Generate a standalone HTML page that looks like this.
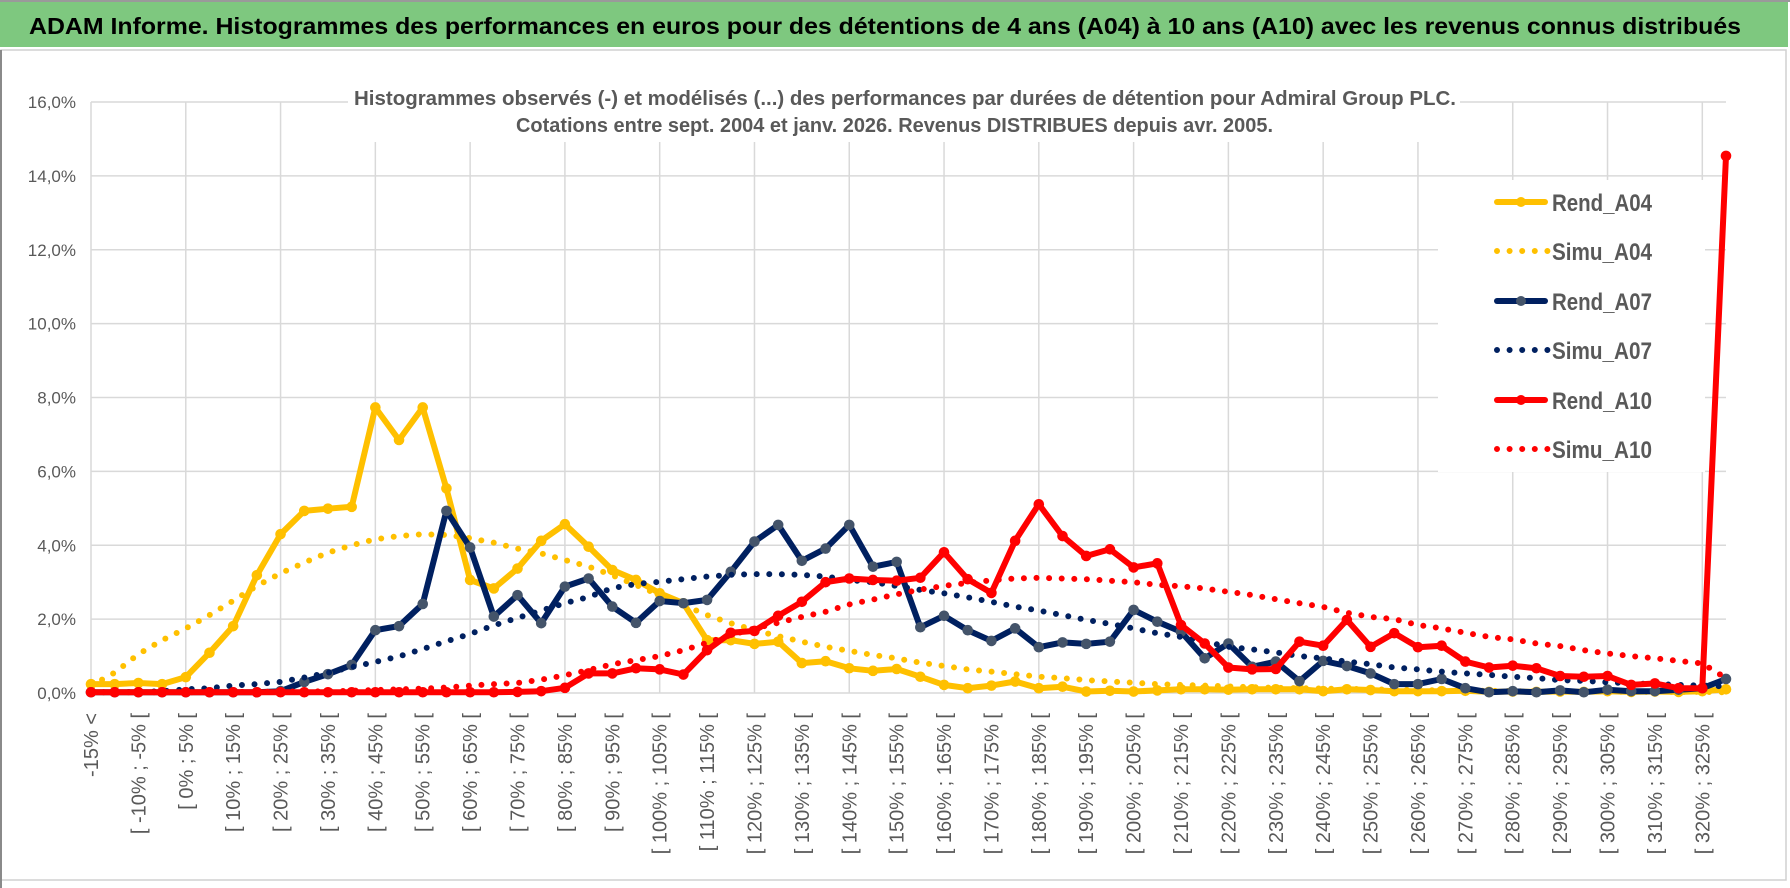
<!DOCTYPE html>
<html><head><meta charset="utf-8"><style>
html,body{margin:0;padding:0;background:#fff;}
svg{display:block;}
</style></head><body>
<svg id="chart" width="1790" height="888" viewBox="0 0 1790 888" xmlns="http://www.w3.org/2000/svg" font-family="'Liberation Sans', sans-serif">
  <rect x="0" y="0" width="1790" height="888" fill="#fff"/>
  <rect x="0" y="2" width="1788" height="45" fill="#7ec87f"/>
  <line x1="0" y1="1" x2="1790" y2="1" stroke="#9a9a9a" stroke-width="2"/>
  <text x="29" y="34" font-size="23" font-weight="bold" fill="#000" textLength="1712" lengthAdjust="spacingAndGlyphs">ADAM Informe. Histogrammes des performances en euros pour des détentions de 4 ans (A04) à 10 ans (A10) avec les revenus connus distribués</text>
  <rect x="1" y="50" width="1785" height="830" fill="#fff" stroke="#d0d0d0" stroke-width="1.5"/>
  <line x1="1" y1="50" x2="1" y2="888" stroke="#8a8a8a" stroke-width="2"/>
  <g id="grid"></g>
  <rect x="348" y="60" width="1112" height="82" fill="#fff"/>
  <text x="354" y="105" font-size="20" font-weight="bold" fill="#595959" textLength="1102" lengthAdjust="spacingAndGlyphs">Histogrammes observés (-) et modélisés (...) des performances par durées de détention pour Admiral Group PLC.</text>
  <text x="516" y="132" font-size="20" font-weight="bold" fill="#595959" textLength="757" lengthAdjust="spacingAndGlyphs">Cotations entre sept. 2004 et janv. 2026. Revenus DISTRIBUES depuis avr. 2005.</text>
  <rect x="1438" y="180" width="267" height="292" fill="#fff"/>
  <g id="axes"></g>
  <g id="series"></g>
  <g id="legend"></g>
</svg>
<script>
const categories = (function(){ const c=["-15% <","[ -15% ; -10% ["]; for(let lo=-10; lo<=325; lo+=5){ c.push("[ "+lo+"% ; "+(lo+5)+"% ["); } return c; })();
const yTicks = [0,2,4,6,8,10,12,14,16];
const yTickLabels = ["0,0%","2,0%","4,0%","6,0%","8,0%","10,0%","12,0%","14,0%","16,0%"];
const rendA04 = [0.24,0.24,0.27,0.24,0.43,1.09,1.81,3.19,4.3,4.93,4.99,5.04,7.73,6.85,7.73,5.54,3.06,2.83,3.37,4.12,4.57,3.96,3.33,3.06,2.7,2.43,1.43,1.43,1.33,1.39,0.81,0.86,0.67,0.6,0.65,0.44,0.22,0.13,0.2,0.31,0.13,0.17,0.04,0.06,0.04,0.07,0.1,0.1,0.09,0.1,0.1,0.1,0.05,0.1,0.08,0.05,0.05,0.05,0.06,0.03,0.04,0.03,0.04,0.03,0.05,0.03,0.04,0.03,0.05,0.1];
const simuA04 = [0.2,0.55,1.05,1.43,1.75,2.11,2.5,2.9,3.24,3.53,3.8,4.0,4.16,4.25,4.3,4.28,4.19,4.07,3.91,3.78,3.6,3.42,3.19,2.92,2.65,2.38,2.11,1.89,1.7,1.54,1.39,1.25,1.14,1.03,0.94,0.82,0.73,0.64,0.58,0.51,0.44,0.4,0.35,0.31,0.28,0.24,0.22,0.2,0.18,0.16,0.14,0.13,0.12,0.11,0.1,0.09,0.08,0.07,0.07,0.06,0.05,0.05,0.04,0.04,0.04,0.03,0.03,0.03,0.03,0.02];
const rendA07 = [0.02,0.02,0.02,0.02,0.02,0.02,0.02,0.02,0.05,0.3,0.51,0.76,1.7,1.81,2.41,4.93,3.94,2.07,2.65,1.89,2.88,3.1,2.34,1.9,2.49,2.43,2.52,3.28,4.1,4.55,3.58,3.91,4.55,3.42,3.55,1.78,2.09,1.7,1.41,1.75,1.24,1.37,1.33,1.39,2.25,1.93,1.66,0.94,1.34,0.71,0.85,0.32,0.87,0.73,0.53,0.24,0.24,0.38,0.13,0.02,0.05,0.02,0.07,0.02,0.09,0.05,0.05,0.09,0.13,0.38];
const simuA07 = [0.02,0.02,0.03,0.05,0.1,0.13,0.2,0.24,0.3,0.42,0.55,0.7,0.84,0.99,1.19,1.4,1.6,1.83,2.03,2.23,2.43,2.6,2.84,2.95,3.01,3.08,3.15,3.2,3.22,3.22,3.2,3.15,3.06,3.0,2.9,2.79,2.7,2.59,2.47,2.34,2.23,2.11,1.98,1.87,1.75,1.62,1.52,1.39,1.25,1.18,1.1,1.0,0.94,0.85,0.78,0.69,0.64,0.58,0.53,0.49,0.44,0.4,0.35,0.33,0.29,0.26,0.24,0.22,0.2,0.18];
const rendA10 = [0.02,0.02,0.02,0.02,0.02,0.02,0.02,0.02,0.02,0.02,0.02,0.02,0.02,0.02,0.02,0.02,0.02,0.02,0.03,0.05,0.14,0.53,0.53,0.67,0.64,0.5,1.16,1.63,1.68,2.09,2.47,3.0,3.1,3.06,3.04,3.12,3.81,3.08,2.71,4.12,5.11,4.25,3.71,3.89,3.4,3.51,1.84,1.34,0.69,0.64,0.65,1.39,1.28,1.98,1.25,1.62,1.24,1.28,0.85,0.69,0.74,0.67,0.46,0.44,0.46,0.22,0.26,0.13,0.13,14.54];
const simuA10 = [0.02,0.02,0.02,0.02,0.02,0.02,0.03,0.03,0.04,0.04,0.05,0.06,0.08,0.1,0.12,0.15,0.2,0.24,0.27,0.36,0.48,0.62,0.78,0.89,1.0,1.16,1.36,1.57,1.75,1.9,2.06,2.2,2.4,2.53,2.67,2.8,2.9,2.98,3.05,3.1,3.12,3.1,3.08,3.04,3.0,2.93,2.89,2.83,2.74,2.65,2.54,2.43,2.33,2.17,2.06,2.0,1.84,1.75,1.63,1.52,1.45,1.34,1.27,1.16,1.07,1.0,0.94,0.87,0.8,0.4];

const NS="http://www.w3.org/2000/svg";
const X0=91, X1=1726, Y0=693, YTOP=102;
const n=categories.length;
function xPos(i){ return X0 + i*(X1-X0)/(n-1); }
function yPos(v){ return Y0 - v*(Y0-YTOP)/16; }
function mk(tag, attrs, parent){ const e=document.createElementNS(NS,tag); for(const k in attrs) e.setAttribute(k,attrs[k]); parent.appendChild(e); return e; }

const grid=document.getElementById('grid');
yTicks.forEach(t=>{ const l=mk('line',{x1:X0,x2:X1,y1:yPos(t),y2:yPos(t),stroke:'#d9d9d9','stroke-width':1.5},grid);
  
   });
for(let i=0;i<n;i+=4){ const l=mk('line',{x1:xPos(i),x2:xPos(i),y1:YTOP,y2:Y0,stroke:'#d9d9d9','stroke-width':1.5},grid);
  
   }

const axes=document.getElementById('axes');
yTicks.forEach((t,k)=>{ const tx=mk('text',{x:76,y:yPos(t)+6,'text-anchor':'end','font-size':17,fill:'#595959'},axes);
  
  
  tx.textContent=yTickLabels[k]; });
categories.forEach((c,i)=>{ if(i%2) return; const x=xPos(i)+7, y=713;
  const tx=mk('text',{x:x,y:y,'text-anchor':'end','font-size':20,fill:'#595959',transform:'rotate(-90 '+x+' '+y+')'},axes);
  
  
  tx.textContent=c; });

const series=[
 {name:'Rend_A04',data:rendA04,color:'#ffc000',marker:'#ffc000',dot:false},
 {name:'Simu_A04',data:simuA04,color:'#ffc000',dot:true},
 {name:'Rend_A07',data:rendA07,color:'#002060',marker:'#44546a',dot:false},
 {name:'Simu_A07',data:simuA07,color:'#002060',dot:true},
 {name:'Rend_A10',data:rendA10,color:'#ff0000',marker:'#ff0000',dot:false},
 {name:'Simu_A10',data:simuA10,color:'#ff0000',dot:true}
];
const sg=document.getElementById('series');
series.forEach(s=>{
  const g=mk('g',{},sg);
  
  
  const pts=s.data.map((v,i)=>xPos(i).toFixed(1)+','+yPos(v).toFixed(1)).join(' ');
  const pl=mk('polyline',{points:pts,fill:'none',stroke:s.color,'stroke-width':6,'stroke-linejoin':'round','stroke-linecap':'round'},g);
  if(s.dot){ pl.setAttribute('stroke-dasharray','0 12.6'); }
  
  
  if(!s.dot){ s.data.forEach((v,i)=>{ const c=mk('circle',{cx:xPos(i),cy:yPos(v),r:5.3,fill:s.marker},g);
    
     }); }
});

const lg=document.getElementById('legend');
const legY=[202,251,301,350,400,449];
series.forEach((s,k)=>{
  const y=legY[k];
  const g=mk('g',{},lg);
  
  
  if(s.dot){ mk('line',{x1:1497,x2:1548,y1:y,y2:y,stroke:s.color,'stroke-width':6,'stroke-linecap':'round','stroke-dasharray':'0 12.6'},g); }
  else { mk('line',{x1:1497,x2:1545,y1:y,y2:y,stroke:s.color,'stroke-width':6,'stroke-linecap':'round'},g);
         mk('circle',{cx:1521,cy:y,r:5,fill:s.marker},g); }
  const t=mk('text',{x:1552,y:y+9,'font-size':24,'font-weight':'bold',fill:'#595959',textLength:100,lengthAdjust:'spacingAndGlyphs'},g);
  t.textContent=s.name;
});
</script>
</body></html>
